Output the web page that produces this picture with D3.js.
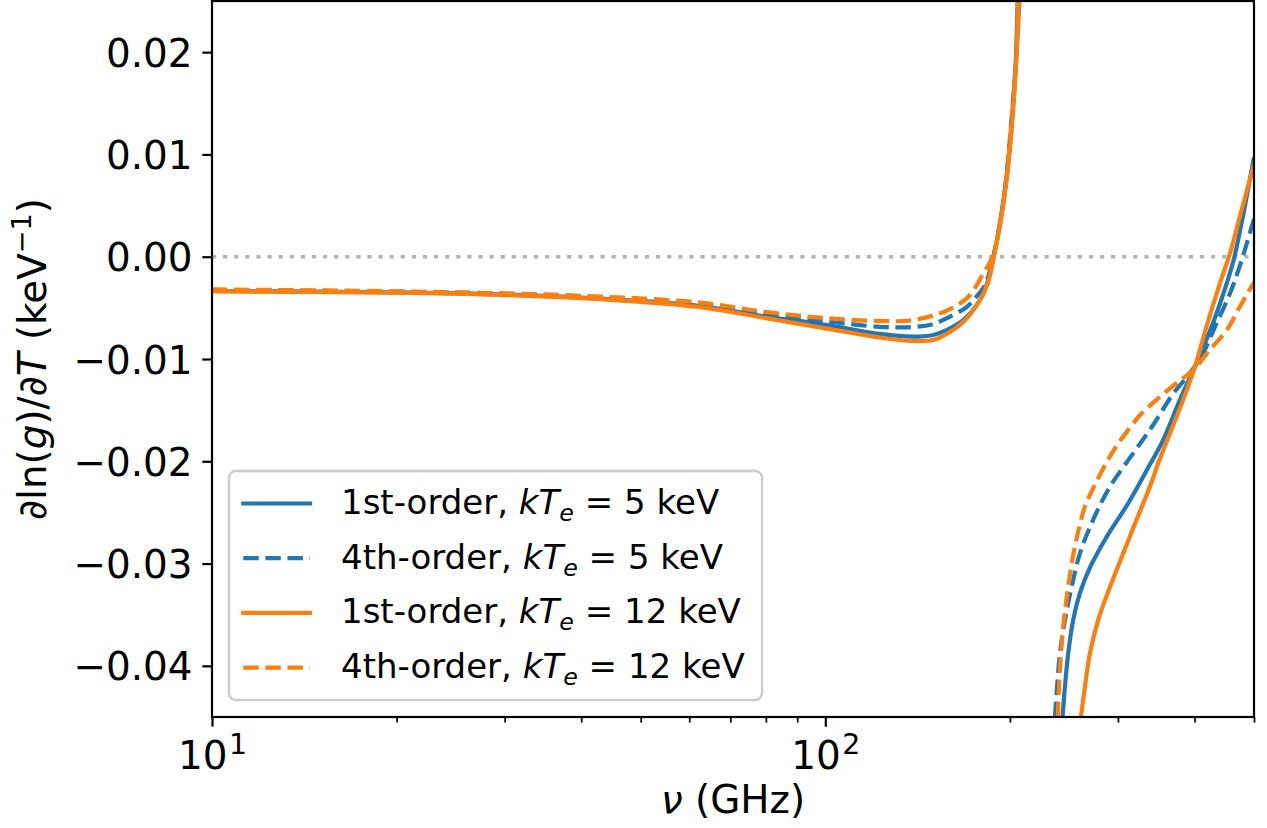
<!DOCTYPE html>
<html>
<head>
<meta charset="utf-8">
<script src="https://cdn.jsdelivr.net/npm/d3@7"></script>
<style>
  body { margin: 0; background: #fff; }
  svg { display: block; }
  text { font-family: "DejaVu Sans", sans-serif; fill: #000; }
</style>
</head>
<body>
<svg id="chart" width="1267" height="828"></svg>
<script>
// Axis limits and ticks
const nuRange = [10, 500];
const valueRange = [-0.045, 0.025];
const yTicks = [-0.04, -0.03, -0.02, -0.01, 0.00, 0.01, 0.02];
const xMajorTicks = [10, 100];
const xMajorExponents = ["1", "2"];
const xMinorTicks = [20, 30, 40, 50, 60, 70, 80, 90, 200, 300, 400, 500];

// Legend text
const orderLabels = ["1st-order", "4th-order", "1st-order", "4th-order"];
const kTeValues = ["5", "5", "12", "12"];

// d ln(g)/dT [keV^-1] versus frequency [GHz]; each curve is split at the SZ null
// 1st-order, kTe = 5 keV
const first5Low = [
  [10, -0.00335], [20, -0.00348], [30, -0.00370], [43, -0.00410], [62, -0.00480],
  [80, -0.00585], [100, -0.00665], [122.7, -0.00755], [139.1, -0.00782], [150, -0.00765],
  [157.6, -0.00717], [167.8, -0.00619], [178.7, -0.00423], [184.1, -0.00238], [188.1, 0.0],
  [192.4, 0.00310], [197.3, 0.00750], [201.0, 0.01239], [204.3, 0.01855], [205.9, 0.02510],
  [207.4, 0.03096]
];
const first5High = [
  [243.7, -0.0450], [245.9, -0.0420], [248.9, -0.0388], [253.6, -0.0355], [260.1, -0.0329],
  [270.0, -0.0304], [287.5, -0.0274], [311.8, -0.0241], [334.1, -0.0209], [355.6, -0.0179],
  [378.6, -0.0140], [398.0, -0.0111], [418.5, -0.0081], [440.0, -0.0046], [462.4, -0.0005],
  [480.1, 0.0041], [500, 0.0097]
];
// 4th-order, kTe = 5 keV
const fourth5Low = [
  [10, -0.00325], [20, -0.00342], [30, -0.00362], [43, -0.00398], [62, -0.00465],
  [80, -0.00560], [100, -0.00630], [122.7, -0.00685], [139.1, -0.00687], [150, -0.00658],
  [157.6, -0.00602], [170.0, -0.00492], [176.1, -0.00394], [180.9, -0.00306], [184.8, -0.00179],
  [187.9, 0.0], [190.8, 0.00183], [194.3, 0.00457], [197.7, 0.00828], [201.4, 0.01375],
  [204.7, 0.01943], [207.1, 0.02510], [208.7, 0.02999]
];
const fourth5High = [
  [236.8, -0.0450], [241.3, -0.0388], [245.9, -0.0355], [252.1, -0.0323], [260.1, -0.0290],
  [273.4, -0.0257], [291.1, -0.0225], [317.8, -0.0192], [342.0, -0.0165], [369.1, -0.0134],
  [393.0, -0.0114], [413.2, -0.0094], [434.6, -0.0065], [456.8, -0.0036], [474.1, -0.0009],
  [500, 0.0037]
];
// 1st-order, kTe = 12 keV
const first12Low = [
  [10, -0.00338], [20, -0.00352], [30, -0.00375], [43, -0.00415], [62, -0.00490],
  [80, -0.00600], [100, -0.00700], [122.7, -0.00790], [139.1, -0.00824], [150, -0.00815],
  [157.6, -0.00756], [167.8, -0.00638], [178.7, -0.00424], [184.1, -0.00257], [188.3, 0.0],
  [192.6, 0.00310], [197.5, 0.00750], [201.2, 0.01239], [204.5, 0.01855], [206.3, 0.02510],
  [207.8, 0.03096]
];
const first12High = [
  [261.1, -0.0450], [265.1, -0.0420], [270.0, -0.0388], [278.6, -0.0355], [291.1, -0.0323],
  [306.0, -0.0290], [321.8, -0.0257], [338.2, -0.0225], [348.9, -0.0202], [383.2, -0.0140],
  [400.4, -0.0108], [418.5, -0.0068], [440.0, -0.0026], [456.8, 0.0003], [474.1, 0.0039],
  [500, 0.0090]
];
// 4th-order, kTe = 12 keV
const fourth12Low = [
  [10, -0.00320], [20, -0.00338], [30, -0.00358], [43, -0.00390], [62, -0.00446],
  [80, -0.00540], [100, -0.00600], [122.7, -0.00629], [139.1, -0.00619], [157.6, -0.00528],
  [170.0, -0.00407], [175.4, -0.00306], [180.0, -0.00189], [184.1, -0.00091], [187.3, 0.0],
  [190.5, 0.00153], [194.1, 0.00427], [197.7, 0.00808], [201.4, 0.01356], [204.8, 0.01943],
  [207.3, 0.02510], [208.9, 0.02999]
];
const fourth12High = [
  [239.4, -0.0450], [240.6, -0.0417], [242.3, -0.03865], [244.2, -0.0362], [247.4, -0.0334],
  [250.5, -0.0311], [254.3, -0.0288], [259.1, -0.0266], [265.1, -0.0244], [274.1, -0.0225],
  [287.5, -0.0201], [299.2, -0.0184], [315.8, -0.0165], [325.8, -0.0155], [351.1, -0.0137],
  [378.6, -0.0121], [398.0, -0.0111], [423.7, -0.0091], [451.1, -0.0072], [474.1, -0.0049],
  [500, -0.0025]
];

// Drawing styles
const blue = "#1f77b4", orange = "#ff7f0e";
const series = [
  { segs: [first5Low, first5High],   color: blue,   dashed: false },
  { segs: [fourth5Low, fourth5High], color: blue,   dashed: true },
  { segs: [first12Low, first12High], color: orange, dashed: false },
  { segs: [fourth12Low, fourth12High], color: orange, dashed: true }
];

const X0 = 212, X1 = 1254, Y0 = 1, Y1 = 717;
const LW = 4.2, DASH = "15.4,6.7";
const tickFont = 38.9, legendFont = 34;

const svg = d3.select("#chart");
const x = d3.scaleLog().domain(nuRange).range([X0, X1]);
const y = d3.scaleLinear().domain(valueRange).range([Y1, Y0]);

svg.append("clipPath").attr("id", "plotArea")
  .append("rect").attr("x", X0).attr("y", Y0).attr("width", X1 - X0).attr("height", Y1 - Y0);

// dotted zero reference
svg.append("line")
  .attr("x1", X0).attr("x2", X1).attr("y1", y(0)).attr("y2", y(0))
  .attr("stroke", "#b3b3b3").attr("stroke-width", 3.6).attr("stroke-dasharray", "4.2,6.9");

// curves
const plot = svg.append("g").attr("clip-path", "url(#plotArea)");
const line = d3.line().x(d => x(d[0])).y(d => y(d[1])).curve(d3.curveCatmullRom.alpha(0.5));
series.forEach(s => {
  s.segs.forEach(seg => {
    plot.append("path")
      .attr("d", line(seg))
      .attr("fill", "none")
      .attr("stroke", s.color)
      .attr("stroke-width", LW)
      .attr("stroke-linejoin", "round")
      .attr("stroke-dasharray", s.dashed ? DASH : null);
  });
});

// y axis
const gy = svg.append("g").attr("transform", `translate(${X0},0)`)
  .call(d3.axisLeft(y).tickValues(yTicks).tickSize(9.7).tickPadding(9.7).tickFormat(d3.format(".2f")));
gy.select(".domain").remove();
gy.attr("font-size", tickFont).attr("font-family", "DejaVu Sans");
gy.selectAll(".tick line").attr("stroke", "#000").attr("stroke-width", 2.2);
gy.selectAll(".tick text").attr("fill", "#000").attr("dy", "0.36em");

// x axis: minor ticks
const gxMinor = svg.append("g").attr("transform", `translate(0,${Y1})`)
  .call(d3.axisBottom(x).tickValues(xMinorTicks).tickSize(5.6).tickFormat(""));
gxMinor.select(".domain").remove();
gxMinor.selectAll(".tick line").attr("stroke", "#000").attr("stroke-width", 1.7);
gxMinor.selectAll(".tick text").remove();

// x axis: major ticks with power-of-ten labels
const gxMajor = svg.append("g").attr("transform", `translate(0,${Y1})`)
  .call(d3.axisBottom(x).tickValues(xMajorTicks).tickSize(9.7).tickFormat(""));
gxMajor.select(".domain").remove();
gxMajor.attr("font-size", tickFont).attr("font-family", "DejaVu Sans");
gxMajor.selectAll(".tick line").attr("stroke", "#000").attr("stroke-width", 2.2);
gxMajor.selectAll(".tick text").each(function(d, i) {
  const t = d3.select(this).text(null).attr("y", 52.3).attr("dy", null)
    .attr("fill", "#000").attr("text-anchor", "middle");
  t.append("tspan").text("10");
  t.append("tspan").attr("font-size", 28.4).attr("dy", -15.3).attr("dx", 1.5).text(xMajorExponents[i]);
});

// frame
svg.append("rect").attr("x", X0).attr("y", Y0).attr("width", X1 - X0).attr("height", Y1 - Y0)
  .attr("fill", "none").attr("stroke", "#000").attr("stroke-width", 2.2);

// axis titles
const xl = svg.append("text").attr("x", (X0 + X1) / 2).attr("y", 813)
  .attr("text-anchor", "middle").attr("font-size", tickFont);
xl.append("tspan").attr("font-style", "italic").text("ν");
xl.append("tspan").text(" (GHz)");

const yl = svg.append("text").attr("transform", `translate(46,${(Y0 + Y1) / 2}) rotate(-90)`)
  .attr("text-anchor", "middle").attr("font-size", tickFont);
yl.append("tspan").text("∂ln(");
yl.append("tspan").attr("font-style", "italic").text("g");
yl.append("tspan").text(")/∂");
yl.append("tspan").attr("font-style", "italic").text("T");
yl.append("tspan").text(" (keV");
yl.append("tspan").attr("font-size", 27.2).attr("dy", -15).text("−1");
yl.append("tspan").attr("dy", 15).text(")");

// legend
const lg = svg.append("g");
lg.append("rect").attr("x", 229).attr("y", 471).attr("width", 533).attr("height", 229)
  .attr("rx", 6.8).attr("ry", 6.8)
  .attr("fill", "#fff").attr("fill-opacity", 0.8)
  .attr("stroke", "#cccccc").attr("stroke-width", 2.4);
series.forEach((s, i) => {
  const ry = 503.5 + i * 54.7;
  lg.append("line")
    .attr("x1", 243.3).attr("x2", 310).attr("y1", ry).attr("y2", ry)
    .attr("stroke", s.color).attr("stroke-width", LW)
    .attr("stroke-linecap", s.dashed ? "butt" : "square")
    .attr("stroke-dasharray", s.dashed ? DASH : null);
  const t = lg.append("text").attr("x", 341).attr("y", ry + 10.5).attr("font-size", legendFont);
  t.append("tspan").text(`${orderLabels[i]}, `);
  t.append("tspan").attr("font-style", "italic").text("kT");
  t.append("tspan").attr("font-style", "italic").attr("font-size", legendFont * 0.7).attr("dy", 7).text("e");
  t.append("tspan").attr("dy", -7).text(` = ${kTeValues[i]} keV`);
});
</script>
</body>
</html>
